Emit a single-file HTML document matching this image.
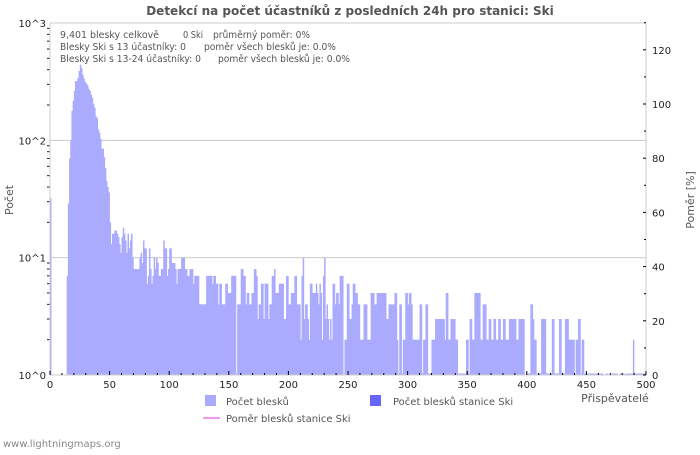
<!DOCTYPE html>
<html><head><meta charset="utf-8"><style>
body{margin:0;background:#fff;}
svg text{font-family:"DejaVu Sans","Liberation Sans",sans-serif;}
</style></head><body>
<svg id="chart" width="700" height="450" viewBox="0 0 700 450" xmlns="http://www.w3.org/2000/svg">
<text x="350" y="15" text-anchor="middle" font-size="12" font-weight="bold" fill="#555">Detekcí na počet účastníků z posledních 24h pro stanici: Ski</text>
<g id="grid"></g>
<g id="bars"></g>
<g id="axes"></g>
<g font-size="10" fill="#555">
<text x="60" y="38" textLength="99" lengthAdjust="spacingAndGlyphs">9,401 blesky celkově</text><text x="183" y="38" textLength="20" lengthAdjust="spacingAndGlyphs">0 Ski</text><text x="213" y="38" textLength="97" lengthAdjust="spacingAndGlyphs">průměrný poměr: 0%</text>
<text x="60" y="50" textLength="126" lengthAdjust="spacingAndGlyphs">Blesky Ski s 13 účastníky: 0</text><text x="204" y="50" textLength="132" lengthAdjust="spacingAndGlyphs">poměr všech blesků je: 0.0%</text>
<text x="60" y="62" textLength="141" lengthAdjust="spacingAndGlyphs">Blesky Ski s 13-24 účastníky: 0</text><text x="218" y="62" textLength="132" lengthAdjust="spacingAndGlyphs">poměr všech blesků je: 0.0%</text>
</g>
<text transform="translate(13,200) rotate(-90)" text-anchor="middle" font-size="11" fill="#555">Počet</text>
<text transform="translate(694,200) rotate(-90)" text-anchor="middle" font-size="11" fill="#555">Poměr [%]</text>
<text x="615" y="402" text-anchor="middle" font-size="11" fill="#555">Přispěvatelé</text>
<rect x="205" y="395" width="11" height="11" fill="#aaaaff"/>
<text x="226" y="405" font-size="10" fill="#555">Počet blesků</text>
<rect x="370" y="395" width="11" height="11" fill="#6666ff"/>
<text x="393" y="405" font-size="10" fill="#555">Počet blesků stanice Ski</text>
<line x1="203" y1="418" x2="220" y2="418" stroke="#ee99ee" stroke-width="2"/>
<text x="226" y="422" font-size="10" fill="#555">Poměr blesků stanice Ski</text>
<text x="3" y="447" font-size="10" fill="#888">www.lightningmaps.org</text>
</svg>
<script>
const counts = [
32,0,0,0,0,0,0,0,0,0,0,0,0,0,
7,29,70,100,178,217,264,320,320,340,
390,440,410,360,336,315,305,295,275,264,
245,230,205,190,160,155,124,116,103,85,
85,72,58,45,40,36,20,13,16,16,
17,17,16,15,13,11,15,18,16,14,
11,16,12,14,16,10,8,8,8,8,
8,10,11,9,14,12,12,6,7,12,
8,6,7,10,8,10,9,7,7,8,
8,
14,12,12,7,8,
12,12,9,9,9,8,6,8,8,8,
10,10,10,8,8,7,7,8,8,8,
6,7,7,7,7,4,4,4,4,4,
4,7,7,7,7,7,6,7,7,6,
6,4,6,6,4,4,4,6,6,5,
5,5,7,7,7,7,1,4,4,4,
8,8,7,7,4,5,5,4,4,5,
5,8,8,7,3,4,4,6,6,3,
6,6,6,3,4,4,7,7,8,5,
5,5,6,6,6,6,3,3,7,7,
4,4,5,5,5,7,7,4,4,4,
2,7,10,3,4,4,3,2,6,6,
5,5,5,6,5,4,6,5,2,7,10,3,4,3,2,
3,2,6,6,4,5,5,4,7,7,7,
0,2,2,6,6,3,3,4,6,6,5,5,4,4,
2,2,2,4,4,4,2,2,2,5,5,5,4,4,
5,5,5,5,5,5,5,5,3,3,
4,4,4,4,4,5,5,2,1,4,4,1,2,2,
5,5,4,5,5,4,2,2,2,2,2,2,4,4,
1,2,2,4,4,1,1,1,2,2,2,
3,3,3,3,3,3,3,3,2,5,5,2,2,
3,3,3,3,2,2,1,1,1,1,1,1,1,
2,2,1,3,3,2,2,5,5,5,5,5,2,2,
4,4,4,2,2,3,3,2,2,3,3,2,2,3,3,
2,2,3,3,2,2,2,3,3,3,3,3,3,2,2,3,3,3,3,3,
0,0,1,1,1,4,4,3,2,2,1,1,1,1,
3,3,3,3,1,1,1,1,1,3,3,1,1,1,1,3,3,1,1,1,
3,3,3,2,2,2,2,2,1,2,2,3,3,1,2,2,
1,1,1,1,1,1,1,1,1,1,1,1,1,1,1,1,0,0,1,1,0,0,
0,1,1,1,1,1,0,0,1,1,1,1,0,1,1,1,1,1,1,2,1,1,1,1,1,1,1,1,1,1
];
const xTicks = [0,50,100,150,200,250,300,350,400,450,500];
const yTicks = [0,1,2,3];
const y2Ticks = [0,20,40,60,80,100,120];
const NS = "http://www.w3.org/2000/svg";
const X0 = 50, X1 = 646, Y0 = 375, YT = 23;
const xs = v => X0 + v * (X1 - X0) / 500;
const ys = v => Y0 - Math.log10(v) * (Y0 - YT) / 3;
const y2s = p => Y0 - p * 2.71;
function mk(tag, attrs, parent){const e=document.createElementNS(NS,tag);for(const k in attrs)e.setAttribute(k,attrs[k]);parent.appendChild(e);return e;}
const grid=document.getElementById('grid'), bars=document.getElementById('bars'), axes=document.getElementById('axes');
yTicks.forEach(t=>{
  if(t>0){const l=mk('line',{x1:X0,x2:X1,y1:ys(Math.pow(10,t)),y2:ys(Math.pow(10,t)),stroke:'#ccc','stroke-width':1},grid);
  
  }
  const tx=mk('text',{x:46,y:ys(Math.pow(10,t))+4,'text-anchor':'end','font-size':10,fill:'#222'},axes);
  tx.textContent='10^'+t;
  
  
  for(let m=2;m<=9&&t<3;m++){mk('line',{x1:X0-3,x2:X0,y1:ys(m*Math.pow(10,t)),y2:ys(m*Math.pow(10,t)),stroke:'#222'},axes);}
});
const bw=(X1-X0)/500;
counts.forEach((c,i)=>{
  if(c<=0)return;
  let top=ys(c); if(Y0-top<1.5) top=Y0-1.5;
  const r=mk('rect',{x:xs(i),y:top,width:bw+0.3,height:Y0-top,fill:'#aaaaff'},bars);
  
  
});
mk('line',{x1:X0,x2:X0,y1:YT,y2:Y0,stroke:'#ccc'},axes);
mk('line',{x1:X0,x2:X1,y1:YT,y2:YT,stroke:'#ccc'},axes);
mk('line',{x1:X1,x2:X1,y1:YT,y2:Y0,stroke:'#ccc'},axes);
mk('line',{x1:X0,x2:X1,y1:Y0,y2:Y0,stroke:'#ccc'},axes);
xTicks.forEach(t=>{
  mk('line',{x1:xs(t),x2:xs(t),y1:Y0,y2:Y0-4,stroke:'#000'},axes);
  const tx=mk('text',{x:xs(t),y:388,'text-anchor':'middle','font-size':10,fill:'#222'},axes);
  tx.textContent=t;
  
  
});
for(let t=10;t<500;t+=10){if(t%50)mk('line',{x1:xs(t),x2:xs(t),y1:Y0,y2:Y0-2,stroke:'#000'},axes);}
y2Ticks.forEach(t=>{
  mk('line',{x1:X1-3,x2:X1,y1:y2s(t),y2:y2s(t),stroke:'#000'},axes);
  mk('line',{x1:X1-2,x2:X1,y1:y2s(t+10),y2:y2s(t+10),stroke:'#000'},axes);
  const tx=mk('text',{x:652,y:y2s(t)+4,'font-size':10,fill:'#222'},axes);
  tx.textContent=t;
  
  
});
</script>
</body></html>
